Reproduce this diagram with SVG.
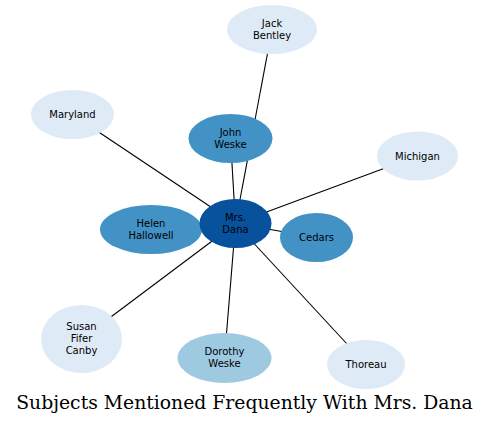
<svg xmlns="http://www.w3.org/2000/svg" width="489" height="424" viewBox="0 0 489 424">
<style>
.e{stroke:#000;stroke-width:1.1;fill:none}
.t{font-family:"DejaVu Sans",sans-serif;font-size:10px;text-anchor:middle;fill:#000}
.d{fill:#08519c}.m{fill:#4292c6}.l{fill:#9ecae1}.p{fill:#deebf7}
.title{font-family:"DejaVu Serif",serif;font-size:18.8px;text-anchor:middle;fill:#000}
</style>
<rect width="489" height="424" fill="#fff"/>
<g id="edges">
<line class="e" x1="235.5" y1="223.5" x2="272" y2="29.5"/>
<line class="e" x1="235.5" y1="223.5" x2="230.5" y2="138.5"/>
<line class="e" x1="235.5" y1="223.5" x2="72.5" y2="114.5"/>
<line class="e" x1="235.5" y1="223.5" x2="417.5" y2="156"/>
<line class="e" x1="235.5" y1="223.5" x2="316.5" y2="237.5"/>
<line class="e" x1="235.5" y1="223.5" x2="151" y2="229.5"/>
<line class="e" x1="235.5" y1="223.5" x2="81.5" y2="339"/>
<line class="e" x1="235.5" y1="223.5" x2="224.5" y2="358"/>
<line class="e" x1="235.5" y1="223.5" x2="366" y2="364.5"/>
</g>
<g id="jack"><ellipse class="p" cx="272" cy="29.5" rx="45" ry="24.5"/><text class="t" x="272" y="26.5">Jack</text><text class="t" x="272" y="38.5">Bentley</text></g>
<g id="maryland"><ellipse class="p" cx="72.5" cy="114.5" rx="41.5" ry="24.5"/><text class="t" x="72.5" y="118">Maryland</text></g>
<g id="michigan"><ellipse class="p" cx="417.5" cy="156" rx="40.5" ry="24.5"/><text class="t" x="417.5" y="159.5">Michigan</text></g>
<g id="john"><ellipse class="m" cx="230.5" cy="138.5" rx="42" ry="24.5"/><text class="t" x="230.5" y="135.5">John</text><text class="t" x="230.5" y="147.5">Weske</text></g>
<g id="helen"><ellipse class="m" cx="151" cy="229.5" rx="51" ry="24.5"/><text class="t" x="151" y="226.5">Helen</text><text class="t" x="151" y="238.5">Hallowell</text></g>
<g id="cedars"><ellipse class="m" cx="316.5" cy="237.5" rx="36.5" ry="24.5"/><text class="t" x="316.5" y="241">Cedars</text></g>
<g id="dana"><ellipse class="d" cx="235.5" cy="223.5" rx="36" ry="24.5"/><text class="t" x="235.5" y="220.5">Mrs.</text><text class="t" x="235.5" y="232.5">Dana</text></g>
<g id="susan"><ellipse class="p" cx="81.5" cy="339" rx="40.5" ry="34"/><text class="t" x="81.5" y="330">Susan</text><text class="t" x="81.5" y="342">Fifer</text><text class="t" x="81.5" y="354">Canby</text></g>
<g id="dorothy"><ellipse class="l" cx="224.5" cy="358" rx="47" ry="25"/><text class="t" x="224.5" y="355">Dorothy</text><text class="t" x="224.5" y="367">Weske</text></g>
<g id="thoreau"><ellipse class="p" cx="366" cy="364.5" rx="39" ry="24.5"/><text class="t" x="366" y="368">Thoreau</text></g>
<text class="title" x="244.5" y="409">Subjects Mentioned Frequently With Mrs. Dana</text>
</svg>
